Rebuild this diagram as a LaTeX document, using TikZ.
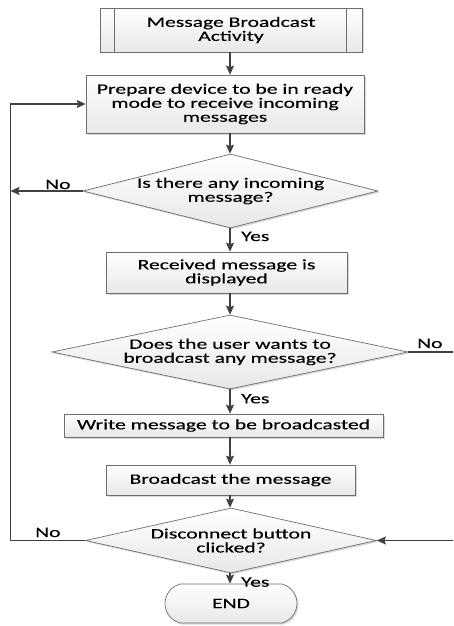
\documentclass[tikz,border=0pt]{standalone}
\usepackage{fontspec}
\setmainfont{Carlito}[FakeStretch=1.5,FakeBold=0.3]
\usetikzlibrary{shapes.geometric,shapes.misc,shadows,arrows.meta}
\definecolor{edge}{HTML}{404040}
\definecolor{frame}{HTML}{6E6E6E}
\begin{document}
\begin{tikzpicture}[x=1pt,y=-1pt,
  font=\fontsize{14.4}{14}\selectfont,
  shapebase/.style={draw=frame, line width=0.7pt, top color=white, bottom color=black!9,
    drop shadow={opacity=0.3, shadow xshift=1.5pt, shadow yshift=-1.5pt},
    inner sep=0pt, align=center},
  procbox/.style={shapebase, rectangle},
  decision/.style={shapebase, diamond},
  terminal/.style={shapebase, rounded rectangle, rounded rectangle arc length=150},
  caption/.style={align=center, inner sep=0pt},
  flow/.style={draw=edge, line width=1.4pt, -{Stealth[length=9pt,width=8pt,inset=1.5pt]}},
  tag/.style={anchor=base west, inner sep=0pt}
]
\useasboundingbox (0,0) rectangle (453,626);
\clip (0,0) rectangle (453,626);

% guide coordinates for the main column and the return rails
\coordinate (spine) at (230,0);
\coordinate (rail) at (10.5,0);
\coordinate (railR) at (470,0);

% predefined process
\node[procbox, minimum width=262pt, minimum height=44pt] (start) at (231,30) {Message Broadcast\\Activity};
\draw[frame, line width=0.7pt] ([xshift=15pt]start.north west) -- ([xshift=15pt]start.south west);
\draw[frame, line width=0.7pt] ([xshift=-16pt]start.north east) -- ([xshift=-16pt]start.south east);

\node[procbox, minimum width=278pt, minimum height=58pt] (prep) at (225,104)
  {Prepare device to be in ready\\mode to receive incoming\\messages};

\node[decision, minimum width=295pt, minimum height=74pt] (d1) at (230.5,191) {};
\node[caption] (d1t) at (d1.center) {Is there any incoming\\message?};

\node[procbox, minimum width=241pt, minimum height=41pt] (recv) at (226.5,272.5) {Received message is\\displayed};

\node[decision, minimum width=356pt, minimum height=74pt] (d2) at (230,352) {};
\node[caption] (d2t) at (d2.center) {Does the user wants to\\broadcast any message?};

\node[procbox, minimum width=319pt, minimum height=23pt] (write) at (223.5,425.5) {Write message to be broadcasted};

\node[procbox, minimum width=249pt, minimum height=30pt] (bcast) at (230.5,480) {Broadcast the message};

\node[decision, minimum width=291pt, minimum height=65pt] (d3) at (231,540.5) {};
\node[caption] (d3t) at (d3.center) {Disconnect button\\clicked?};

\node[terminal, minimum width=132pt, minimum height=39pt] (stop) at (231,603.5) {END};

% main flow
\draw[flow] (start.south -| spine) -- (prep.north -| spine);
\draw[flow] (prep.south -| spine) -- (d1.north -| spine);
\draw[flow] (d1.south -| spine) -- (recv.north -| spine);
\draw[flow] (recv.south -| spine) -- (d2.north -| spine);
\draw[flow] (d2.south -| spine) -- (write.north -| spine);
\draw[flow] (write.south -| spine) -- (bcast.north -| spine);
\draw[flow] (bcast.south -| spine) -- (d3.north -| spine);
\draw[flow] (d3.south -| spine) -- (stop.north -| spine);

% branches
\draw[flow] (d1.west) -- (d1.west -| rail);
\draw[flow] (d3.west) -- (d3.west -| rail) -- (prep.west -| rail) -- (prep.west);
\draw[flow] (d2.east) -- (d2.east -| railR) -- (d3.east -| railR) -- (d3.east);

% branch labels
\node[tag] (no1) at (45,189) {No};
\node[tag] (no2) at (417,348) {No};
\node[tag] (no3) at (35,537) {No};
\node[tag] (yes1) at (241,241) {Yes};
\node[tag] (yes2) at (241,403.3) {Yes};
\node[tag] (yes3) at (241,586.7) {Yes};
\end{tikzpicture}
\end{document}
